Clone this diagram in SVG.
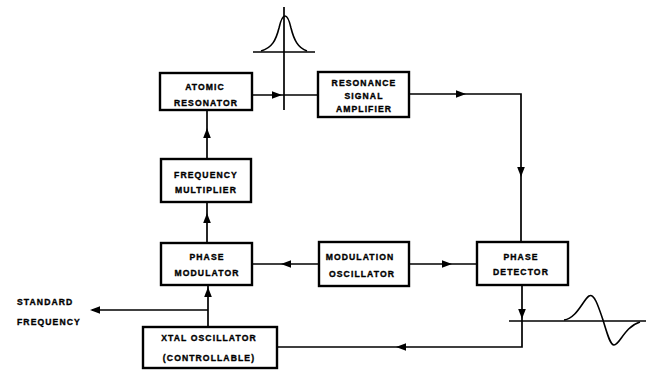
<svg xmlns="http://www.w3.org/2000/svg" xmlns:xlink="http://www.w3.org/1999/xlink" width="647" height="371" viewBox="0 0 647 371">
<style>
.box{fill:#fff;stroke:#000;stroke-width:2.4}
.ln{fill:none;stroke:#000;stroke-width:1.7}
.crv{fill:none;stroke:#000;stroke-width:1.6}
text{font-family:"Liberation Sans",Arial,sans-serif;font-weight:bold;font-size:8.6px;letter-spacing:1.1px;text-anchor:middle;fill:#000;stroke:#000;stroke-width:0.35}
.lt{text-anchor:start}
</style>
<defs>
<path id="ah" d="M1,0 L-9,-3.8 L-9,3.8 Z" fill="#000"/>
</defs>
<rect width="647" height="371" fill="#fff"/>
<g id="connectors">
<path class="ln" d="M252,95 H318"/>
<path class="ln" d="M284,7 V110"/>
<use xlink:href="#ah" transform="translate(281,95)"/>
<path class="ln" d="M409,94 H521 V242"/>
<use xlink:href="#ah" transform="translate(465,94)"/>
<use xlink:href="#ah" transform="translate(521,176) rotate(90)"/>
<path class="ln" d="M409,264 H477"/>
<use xlink:href="#ah" transform="translate(451,264)"/>
<path class="ln" d="M319,264 H252"/>
<use xlink:href="#ah" transform="translate(282,264) rotate(180)"/>
<path class="ln" d="M207,159 V110"/>
<use xlink:href="#ah" transform="translate(207,129) rotate(-90)"/>
<path class="ln" d="M207,243 V202"/>
<use xlink:href="#ah" transform="translate(207,214) rotate(-90)"/>
<path class="ln" d="M208,327 V285"/>
<use xlink:href="#ah" transform="translate(208,288) rotate(-90)"/>
<path class="ln" d="M208,310 H92"/>
<use xlink:href="#ah" transform="translate(91,310) rotate(180)"/>
<path class="ln" d="M522,285 V347 H277"/>
<use xlink:href="#ah" transform="translate(522,318) rotate(90)"/>
<use xlink:href="#ah" transform="translate(397,347) rotate(180)"/>
</g>
<g id="bell">
<path class="ln" d="M253,52 H315"/>
<path class="crv" d="M261,51 C272,48 276,40 279,28 C281,19 283,16 285,16 C287,16 289,19 291,28 C294,40 298,48 307,51"/>
</g>
<g id="scurve">
<path class="ln" d="M509,321 H646"/>
<path class="crv" d="M564,320 C577,318 583,300 589,296 C594,293 598,305 603,320 C607,333 610,345 614,345 C620,345 624,327 640,322"/>
</g>
<g id="atomic-resonator">
<rect class="box" x="160" y="73" width="92" height="37"/>
<text x="205" y="90">ATOMIC</text>
<text x="206" y="106">RESONATOR</text>
</g>
<g id="resonance-amplifier">
<rect class="box" x="318" y="72" width="91" height="45"/>
<text x="364" y="86">RESONANCE</text>
<text x="364" y="99">SIGNAL</text>
<text x="364" y="112">AMPLIFIER</text>
</g>
<g id="frequency-multiplier">
<rect class="box" x="161" y="159" width="90" height="43"/>
<text x="206" y="178">FREQUENCY</text>
<text x="206" y="193">MULTIPLIER</text>
</g>
<g id="phase-modulator">
<rect class="box" x="161" y="243" width="91" height="42"/>
<text x="207" y="260">PHASE</text>
<text x="207" y="276">MODULATOR</text>
</g>
<g id="modulation-oscillator">
<rect class="box" x="319" y="242" width="90" height="44"/>
<text x="360" y="260">MODULATION</text>
<text x="362" y="277">OSCILLATOR</text>
</g>
<g id="phase-detector">
<rect class="box" x="477" y="242" width="91" height="43"/>
<text x="521" y="260">PHASE</text>
<text x="521" y="275">DETECTOR</text>
</g>
<g id="xtal-oscillator">
<rect class="box" x="143" y="327" width="134" height="41"/>
<text x="209" y="341">XTAL  OSCILLATOR</text>
<text x="209" y="361">(CONTROLLABLE)</text>
</g>
<g id="standard-frequency">
<text class="lt" x="17" y="305">STANDARD</text>
<text class="lt" x="17" y="325">FREQUENCY</text>
</g>
</svg>
